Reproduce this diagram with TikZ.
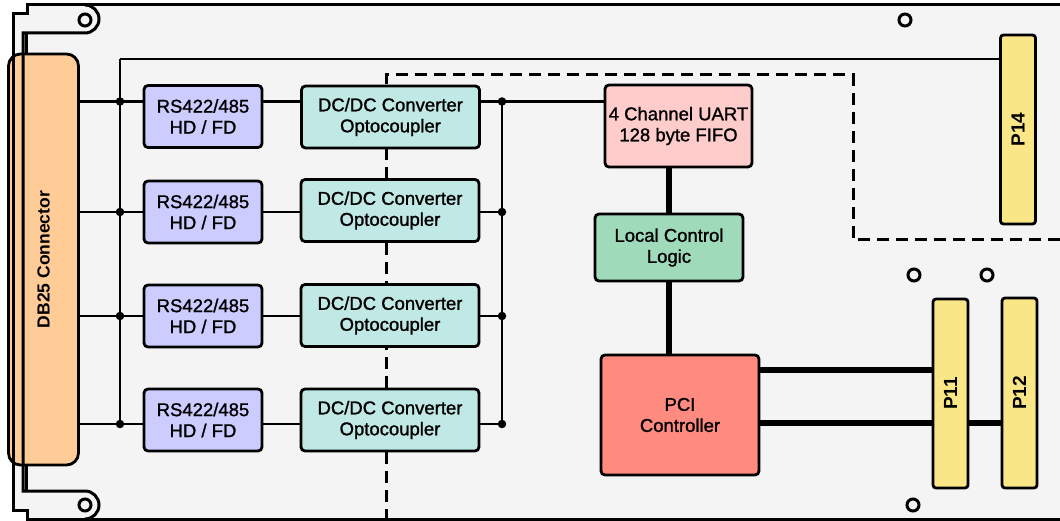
\documentclass[tikz,border=0pt]{standalone}
\usepackage{fontspec}
\setmainfont{Liberation Sans}
\newfontfamily\boxfont[FakeBold=1.2]{Liberation Sans}
\usepackage{graphicx}
\definecolor{boardc}{HTML}{F4F4F4}
\definecolor{dbc}{HTML}{FFCB96}
\definecolor{rsc}{HTML}{CCCCFF}
\definecolor{dcc}{HTML}{C0E8E4}
\definecolor{uartc}{HTML}{FFCCCC}
\definecolor{lclc}{HTML}{9FDBBB}
\definecolor{pcic}{HTML}{FF8A80}
\definecolor{pconc}{HTML}{F9E687}
\begin{document}
\begin{tikzpicture}[x=1pt,y=-1pt,
  box/.style={draw=black, line width=2.8pt, rounded corners=4pt, inner sep=0pt, align=center, font=\boxfont\fontsize{18.5}{21}\selectfont},
  rsbox/.style={box, fill=rsc, minimum width=118pt, minimum height=62pt},
  dcbox/.style={box, fill=dcc, minimum width=178pt, minimum height=62pt},
  pconn/.style={box, fill=pconc, rounded corners=3pt, minimum width=35pt, font=\fontsize{19}{20}\selectfont\bfseries},
  wire/.style={line width=2.8pt},
  fatwire/.style={line width=6.5pt},
  jdot/.style={circle, fill=black, inner sep=0pt, minimum size=8.5pt},
  hole/.style={circle, draw=black, line width=3pt, inner sep=0pt, minimum size=12pt},
  boardline/.style={line width=3pt, line join=miter},
  dashline/.style={line width=3pt, dash pattern=on 12pt off 7pt},
  ]
\clip (0,0) rectangle (1060,521);
% board fill
\fill[white] (0,0) rectangle (1060,521);
\fill[boardc] (27,5) -- (1080,5) -- (1080,519) -- (27,519) -- (27,510) -- (13,510) -- (13,14) -- (27,14) -- cycle;
% hidden inner panel line
\draw[boardline] (26,33) -- (26,491);
% DB25 connector
\node[box, fill=dbc, rounded corners=12pt, minimum width=70pt, minimum height=411pt, font=\fontsize{17.5}{20}\selectfont\bfseries] (db25) at (43.5,259.5) {\rotatebox{90}{DB25 Connector}};
% board outline
\draw[boardline] (1080,5) -- (27,5) -- (27,14) -- (13,14) -- (13,510) -- (27,510) -- (27,519) -- (1080,519);
\draw[boardline] (85,5) .. controls (92.7,5) and (99,11.3) .. (99,19) .. controls (99,26.7) and (92.7,33) .. (85,33) -- (23,33) -- (23,491) -- (85,491) .. controls (92.7,491) and (99,497.3) .. (99,505) .. controls (99,512.7) and (92.7,519) .. (85,519);
% mounting holes
\node[hole] (h1) at (85,20) {};
\node[hole] (h2) at (85,505) {};
\node[hole] (h3) at (905,20) {};
\node[hole] (h4) at (914,275) {};
\node[hole] (h5) at (987,275) {};
\node[hole] (h6) at (913,505) {};
% isolation boundary
\draw[dashline] (386,521) -- (386,75) -- (853,75) -- (853,240) -- (1070,240);
% coordinates
\coordinate (tb) at (120,59);
\coordinate (j1) at (120,101.5);
\coordinate (j2) at (120,212);
\coordinate (j3) at (120,316);
\coordinate (j4) at (120,424);
\coordinate (k1) at (502,101.5);
\coordinate (k2) at (502,212);
\coordinate (k3) at (502,316);
\coordinate (k4) at (502,424);
% nodes
\node[rsbox] (rs1) at (203,116.5) {RS422/485\\HD / FD};
\node[rsbox] (rs2) at (203,212) {RS422/485\\HD / FD};
\node[rsbox] (rs3) at (203,316) {RS422/485\\HD / FD};
\node[rsbox] (rs4) at (203,420) {RS422/485\\HD / FD};
\node[dcbox] (dc1) at (390.5,117) {DC/DC Converter\\Optocoupler};
\node[dcbox] (dc2) at (390,210.5) {DC/DC Converter\\Optocoupler};
\node[dcbox] (dc3) at (390,315.5) {DC/DC Converter\\Optocoupler};
\node[dcbox] (dc4) at (390,420) {DC/DC Converter\\Optocoupler};
\node[box, fill=uartc, minimum width=147pt, minimum height=82pt] (uart) at (678.5,126) {4 Channel UART\\128 byte FIFO};
\node[box, fill=lclc, minimum width=148pt, minimum height=67pt] (lcl) at (669,247.5) {Local Control\\Logic};
\node[box, fill=pcic, minimum width=158pt, minimum height=120pt] (pci) at (680,415) {PCI\\Controller};
\coordinate (q1) at (pci.east |- 0,370);
\coordinate (q2) at (pci.east |- 0,423);
% wires
\draw[wire] (tb) -- (j4);
\draw[wire] (k1) -- (k4);
\foreach \i in {1,2,3,4}{
  \draw[wire] (db25.east |- j\i) -- (j\i) -- (rs\i.west |- j\i);
  \draw[wire] (rs\i.east |- j\i) -- (dc\i.west |- j\i);
  \draw[wire] (dc\i.east |- k\i) -- (k\i);
}
\draw[wire] (k1) -- (uart.west |- k1);
\draw[fatwire] (lcl.north |- uart.south) -- (lcl.north);
\draw[fatwire] (lcl.south) -- (lcl.south |- pci.north);
% connectors P14, P11, P12
\node[pconn, minimum height=189pt] (p14) at (1018,129.5) {\rotatebox{90}{P14}};
\draw[wire] (tb) -- (tb -| p14.west);
\node[pconn, minimum height=190pt] (p12) at (1019.5,393) {\rotatebox{90}{P12}};
\draw[fatwire] (q2) -- (q2 -| p12.west);
\draw[fatwire] (q1) -- (q1 -| 940,0);
\node[pconn, minimum height=189pt] (p11) at (950.5,393.5) {\rotatebox{90}{P11}};
% junction dots
\foreach \i in {1,2,3,4}{
  \node[jdot] (dj\i) at (j\i) {};
  \node[jdot] (dk\i) at (k\i) {};
}
\end{tikzpicture}
\end{document}
